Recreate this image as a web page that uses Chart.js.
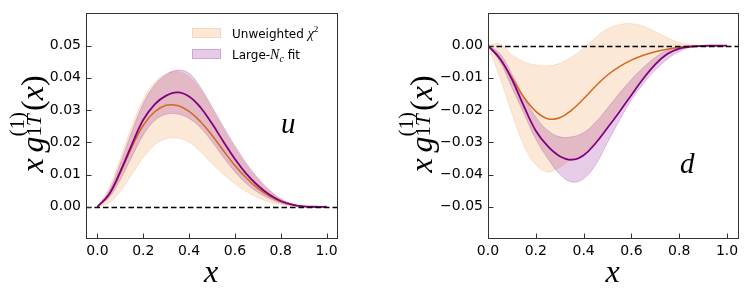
<!DOCTYPE html>
<html>
<head>
<meta charset="utf-8">
<script src="https://cdn.jsdelivr.net/npm/chart.js@4.4.1/dist/chart.umd.min.js"></script>
<style>
  html, body { margin: 0; padding: 0; background: #fff; }
  #wrap { position: relative; width: 747px; height: 296px; overflow: hidden; }
  .panel { position: absolute; top: 0; }
</style>
</head>
<body>
<div id="wrap">
  <div class="panel" style="left:0"><canvas id="uChart" width="374" height="296"></canvas></div>
  <div class="panel" style="left:374px"><canvas id="dChart" width="373" height="296"></canvas></div>
</div>
<script>
// x grid shared by every curve
const xs = [0, 0.05, 0.1, 0.15, 0.2, 0.25, 0.3, 0.35, 0.4, 0.45, 0.5,
            0.55, 0.6, 0.65, 0.7, 0.75, 0.8, 0.85, 0.9, 0.95, 1.0];

// u quark
const uOrange   = [0, 0.0037, 0.0105, 0.0185, 0.0253, 0.0295, 0.0315, 0.0314, 0.0296, 0.0264, 0.0222, 0.0174, 0.0128, 0.0089, 0.0057, 0.0033, 0.0016, 0.0006, 0.0001, 0, 0];
const uOrangeHi = [0, 0.0058, 0.0150, 0.0250, 0.0333, 0.0386, 0.0412, 0.0419, 0.0403, 0.0362, 0.0302, 0.0240, 0.0181, 0.0128, 0.0085, 0.0050, 0.0024, 0.0009, 0.0002, 0, 0];
const uOrangeLo = [0, 0.0012, 0.0048, 0.0100, 0.0152, 0.0192, 0.0211, 0.0213, 0.0200, 0.0170, 0.0134, 0.0100, 0.0072, 0.0047, 0.0028, 0.0015, 0.0007, 0.0002, 0, 0, 0];
const uPurple   = [0, 0.0038, 0.0110, 0.0193, 0.0270, 0.0318, 0.0345, 0.0355, 0.0342, 0.0308, 0.0258, 0.0202, 0.0148, 0.0102, 0.0066, 0.0038, 0.0018, 0.0007, 0.0001, 0, 0];
const uPurpleHi = [0, 0.0048, 0.0135, 0.0233, 0.0320, 0.0378, 0.0410, 0.0424, 0.0414, 0.0370, 0.0310, 0.0248, 0.0189, 0.0135, 0.0090, 0.0053, 0.0025, 0.0009, 0.0002, 0, 0];
const uPurpleLo = [0, 0.0028, 0.0085, 0.0155, 0.0223, 0.0268, 0.0287, 0.0288, 0.0274, 0.0245, 0.0202, 0.0154, 0.0109, 0.0072, 0.0045, 0.0026, 0.0012, 0.0004, 0.0001, 0, 0];

// d quark
const dOrange   = [0, -0.0042, -0.0100, -0.0160, -0.0204, -0.0227, -0.0224, -0.0200, -0.0165, -0.0126, -0.0091, -0.0065, -0.0045, -0.0030, -0.0019, -0.0011, -0.0005, -0.0002, 0, 0, 0];
const dOrangeHi = [0, 0.0005, -0.0028, -0.0050, -0.0060, -0.0063, -0.0055, -0.0035, -0.0008, 0.0025, 0.0052, 0.0065, 0.0068, 0.0060, 0.0043, 0.0025, 0.0010, 0.0003, 0.0001, 0, 0];
const dOrangeLo = [0, -0.0100, -0.0210, -0.0310, -0.0370, -0.0392, -0.0377, -0.0350, -0.0333, -0.0296, -0.0245, -0.0192, -0.0142, -0.0095, -0.0054, -0.0025, -0.0009, -0.0003, -0.0001, 0, 0];
const dPurple   = [0, -0.0040, -0.0105, -0.0188, -0.0264, -0.0312, -0.0343, -0.0354, -0.0340, -0.0303, -0.0255, -0.0205, -0.0153, -0.0102, -0.0058, -0.0026, -0.0009, -0.0003, -0.0001, 0, 0];
const dPurpleHi = [0, -0.0025, -0.0088, -0.0160, -0.0222, -0.0263, -0.0283, -0.0283, -0.0270, -0.0238, -0.0194, -0.0148, -0.0105, -0.0068, -0.0036, -0.0015, -0.0005, -0.0001, 0, 0, 0];
const dPurpleLo = [0, -0.0050, -0.0130, -0.0210, -0.0290, -0.0350, -0.0398, -0.0423, -0.0413, -0.0370, -0.0300, -0.0232, -0.0168, -0.0118, -0.0076, -0.0042, -0.0018, -0.0005, -0.0001, 0, 0];

// tick labels
const xTicks = [0, 0.2, 0.4, 0.6, 0.8, 1.0];
const uYTicks = [0, 0.01, 0.02, 0.03, 0.04, 0.05];
const dYTicks = [-0.05, -0.04, -0.03, -0.02, -0.01, 0];

const ORANGE = '#d2691e';
const PURPLE = '#800080';
const ORANGE_BAND = 'rgba(244,164,96,0.25)';
const PURPLE_BAND = 'rgba(128,0,128,0.2)';
const TICK_FONT = { family: 'DejaVu Sans', size: 14 };
const SERIF = 'Liberation Serif';

const pts = arr => xs.map((x, i) => ({ x: x, y: arr[i] }));

function makeDatasets(oMid, oHi, oLo, pMid, pHi, pLo) {
  return [
    { data: pts(pMid), borderColor: PURPLE, borderWidth: 1.8, order: 0 },
    { data: pts(oMid), borderColor: ORANGE, borderWidth: 1.5, order: 1 },
    { data: pts(pHi), borderColor: PURPLE_BAND, borderWidth: 1, backgroundColor: PURPLE_BAND, fill: '+1', order: 2 },
    { data: pts(pLo), borderColor: PURPLE_BAND, borderWidth: 1, order: 3 },
    { data: pts(oHi), borderColor: ORANGE_BAND, borderWidth: 1, backgroundColor: ORANGE_BAND, fill: '+1', order: 4 },
    { data: pts(oLo), borderColor: ORANGE_BAND, borderWidth: 1, order: 5 }
  ];
}

// lay out runs of mixed-font text, with optional stacked sub/superscripts
function layoutRuns(ctx, items) {
  let w = 0;
  const runs = [];
  items.forEach(it => {
    if (it.stack) {
      let mw = 0;
      it.stack.forEach(line => {
        let lw = 0;
        line.forEach(r => {
          ctx.font = r.f;
          runs.push({ t: r.t, f: r.f, dy: r.dy || 0, x: w + lw });
          lw += ctx.measureText(r.t).width;
        });
        mw = Math.max(mw, lw);
      });
      w += mw + 1;
    } else {
      ctx.font = it.f;
      runs.push({ t: it.t, f: it.f, dy: it.dy || 0, x: w });
      w += ctx.measureText(it.t).width + (it.gap || 0);
    }
  });
  return { runs: runs, width: w };
}

function drawRuns(ctx, lay, x, y) {
  lay.runs.forEach(r => {
    ctx.font = r.f;
    ctx.fillText(r.t, x + r.x, y + r.dy);
  });
}

function yLabelItems() {
  const big = 'italic 32px "' + SERIF + '"';
  const bigUp = '32px "' + SERIF + '"';
  const sm = 'italic 21px "' + SERIF + '"';
  const smUp = '21px "' + SERIF + '"';
  return [
    { t: 'x', f: big, gap: 6 },
    { t: 'g', f: big },
    { stack: [
      [{ t: '(1)', f: smUp, dy: -19 }],
      [{ t: '1', f: smUp, dy: -2 }, { t: 'T', f: sm, dy: -2 }]
    ] },
    { t: '(', f: bigUp },
    { t: 'x', f: big },
    { t: ')', f: bigUp }
  ];
}

function makeDeco(cfg) {
  return {
    id: 'deco',
    afterDatasetsDraw(chart) {
      const ctx = chart.ctx;
      const a = chart.chartArea;
      const x = chart.scales.x, y = chart.scales.y;
      ctx.save();

      // dashed zero line
      const y0 = Math.round(y.getPixelForValue(0)) + 0.5;
      ctx.strokeStyle = '#000';
      ctx.lineWidth = 1.5;
      ctx.setLineDash([5.5, 3]);
      ctx.beginPath();
      ctx.moveTo(a.left, y0);
      ctx.lineTo(a.right, y0);
      ctx.stroke();
      ctx.setLineDash([]);

      // frame and inward ticks
      ctx.strokeStyle = '#333';
      ctx.lineWidth = 1;
      const L = Math.round(a.left) + 0.5, R = Math.round(a.right) - 0.5;
      const T = Math.round(a.top) + 0.5, B = Math.round(a.bottom) - 0.5;
      ctx.strokeRect(L, T, R - L, B - T);
      ctx.beginPath();
      xTicks.forEach(v => {
        const px = Math.round(x.getPixelForValue(v)) + 0.5;
        ctx.moveTo(px, B); ctx.lineTo(px, B - 5);
      });
      cfg.yTicks.forEach(v => {
        const py = Math.round(y.getPixelForValue(v)) + 0.5;
        ctx.moveTo(L, py); ctx.lineTo(L + 5, py);
      });
      ctx.stroke();

      ctx.fillStyle = '#000';
      ctx.textBaseline = 'alphabetic';
      ctx.textAlign = 'left';

      // panel tag
      ctx.font = 'italic 29px "' + SERIF + '"';
      ctx.fillText(cfg.tag, cfg.tagX, cfg.tagY);

      // x axis title
      ctx.font = 'italic 32px "' + SERIF + '"';
      const xc = (a.left + a.right) / 2;
      ctx.fillText('x', xc - 8, 282);

      // y axis title
      const lay = layoutRuns(ctx, yLabelItems());
      ctx.save();
      ctx.translate(cfg.yLabX, 124);
      ctx.rotate(-Math.PI / 2);
      drawRuns(ctx, lay, -lay.width / 2, 0);
      ctx.restore();

      // legend
      if (cfg.legend) {
        const lx = 192, tx = 232;
        const rows = [
          { fill: ORANGE_BAND, cy: 33, items: [
            { t: 'Unweighted ', f: '12px "DejaVu Sans"' },
            { t: '\u03c7', f: 'italic 14px "' + SERIF + '"' },
            { t: '2', f: '9px "' + SERIF + '"', dy: -6 }
          ] },
          { fill: PURPLE_BAND, cy: 54, items: [
            { t: 'Large-', f: '12px "DejaVu Sans"' },
            { t: 'N', f: 'italic 14px "' + SERIF + '"' },
            { t: 'c', f: 'italic 10px "' + SERIF + '"', dy: 3 },
            { t: ' fit', f: '12px "DejaVu Sans"' }
          ] }
        ];
        rows.forEach(r => {
          ctx.fillStyle = r.fill;
          ctx.fillRect(lx, r.cy - 5, 29, 10);
          ctx.strokeStyle = r.fill;
          ctx.strokeRect(lx + 0.5, r.cy - 4.5, 28, 9);
          ctx.fillStyle = '#000';
          drawRuns(ctx, layoutRuns(ctx, r.items), tx, r.cy + 4.5);
        });
      }
      ctx.restore();
    }
  };
}

function fmtY(v) {
  if (Math.abs(v) < 1e-9) return '0.00';
  return (v < 0 ? '\u2212' : '') + Math.abs(v).toFixed(2);
}

function makeChart(id, ds, opt) {
  return new Chart(document.getElementById(id), {
    type: 'line',
    data: { datasets: ds },
    options: {
      responsive: false,
      animation: false,
      layout: { padding: { left: 0, right: opt.padRight, top: 7, bottom: 0 } },
      plugins: { legend: { display: false }, tooltip: { enabled: false } },
      elements: {
        point: { radius: 0 },
        line: { tension: 0.4 }
      },
      scales: {
        x: {
          type: 'linear',
          min: opt.xMin, max: 1.05,
          afterFit: s => { s.height = 57; },
          afterBuildTicks: s => { s.ticks = xTicks.map(v => ({ value: v })); },
          grid: { display: false, drawTicks: false },
          border: { display: false },
          ticks: { font: TICK_FONT, color: '#000', padding: 4, maxRotation: 0,
                   callback: v => v.toFixed(1) }
        },
        y: {
          type: 'linear',
          min: opt.yMin, max: opt.yMax,
          afterFit: s => { s.width = opt.yWidth; },
          afterBuildTicks: s => { s.ticks = opt.yTicks.map(v => ({ value: v })); },
          grid: { display: false, drawTicks: false },
          border: { display: false },
          ticks: { font: TICK_FONT, color: '#000', padding: 5, callback: fmtY }
        }
      }
    },
    plugins: [makeDeco(opt)]
  });
}

makeChart('uChart', makeDatasets(uOrange, uOrangeHi, uOrangeLo, uPurple, uPurpleHi, uPurpleLo), {
  xMin: -0.05, yMin: -0.01, yMax: 0.06, yWidth: 86, padRight: 36, yTicks: uYTicks,
  tag: 'u', tagX: 281, tagY: 133, yLabX: 43, legend: true
});

makeChart('dChart', makeDatasets(dOrange, dOrangeHi, dOrangeLo, dPurple, dPurpleHi, dPurpleLo), {
  xMin: 0, yMin: -0.06, yMax: 0.01, yWidth: 114, padRight: 8, yTicks: dYTicks,
  tag: 'd', tagX: 306, tagY: 173, yLabX: 58, legend: false
});
</script>
</body>
</html>
